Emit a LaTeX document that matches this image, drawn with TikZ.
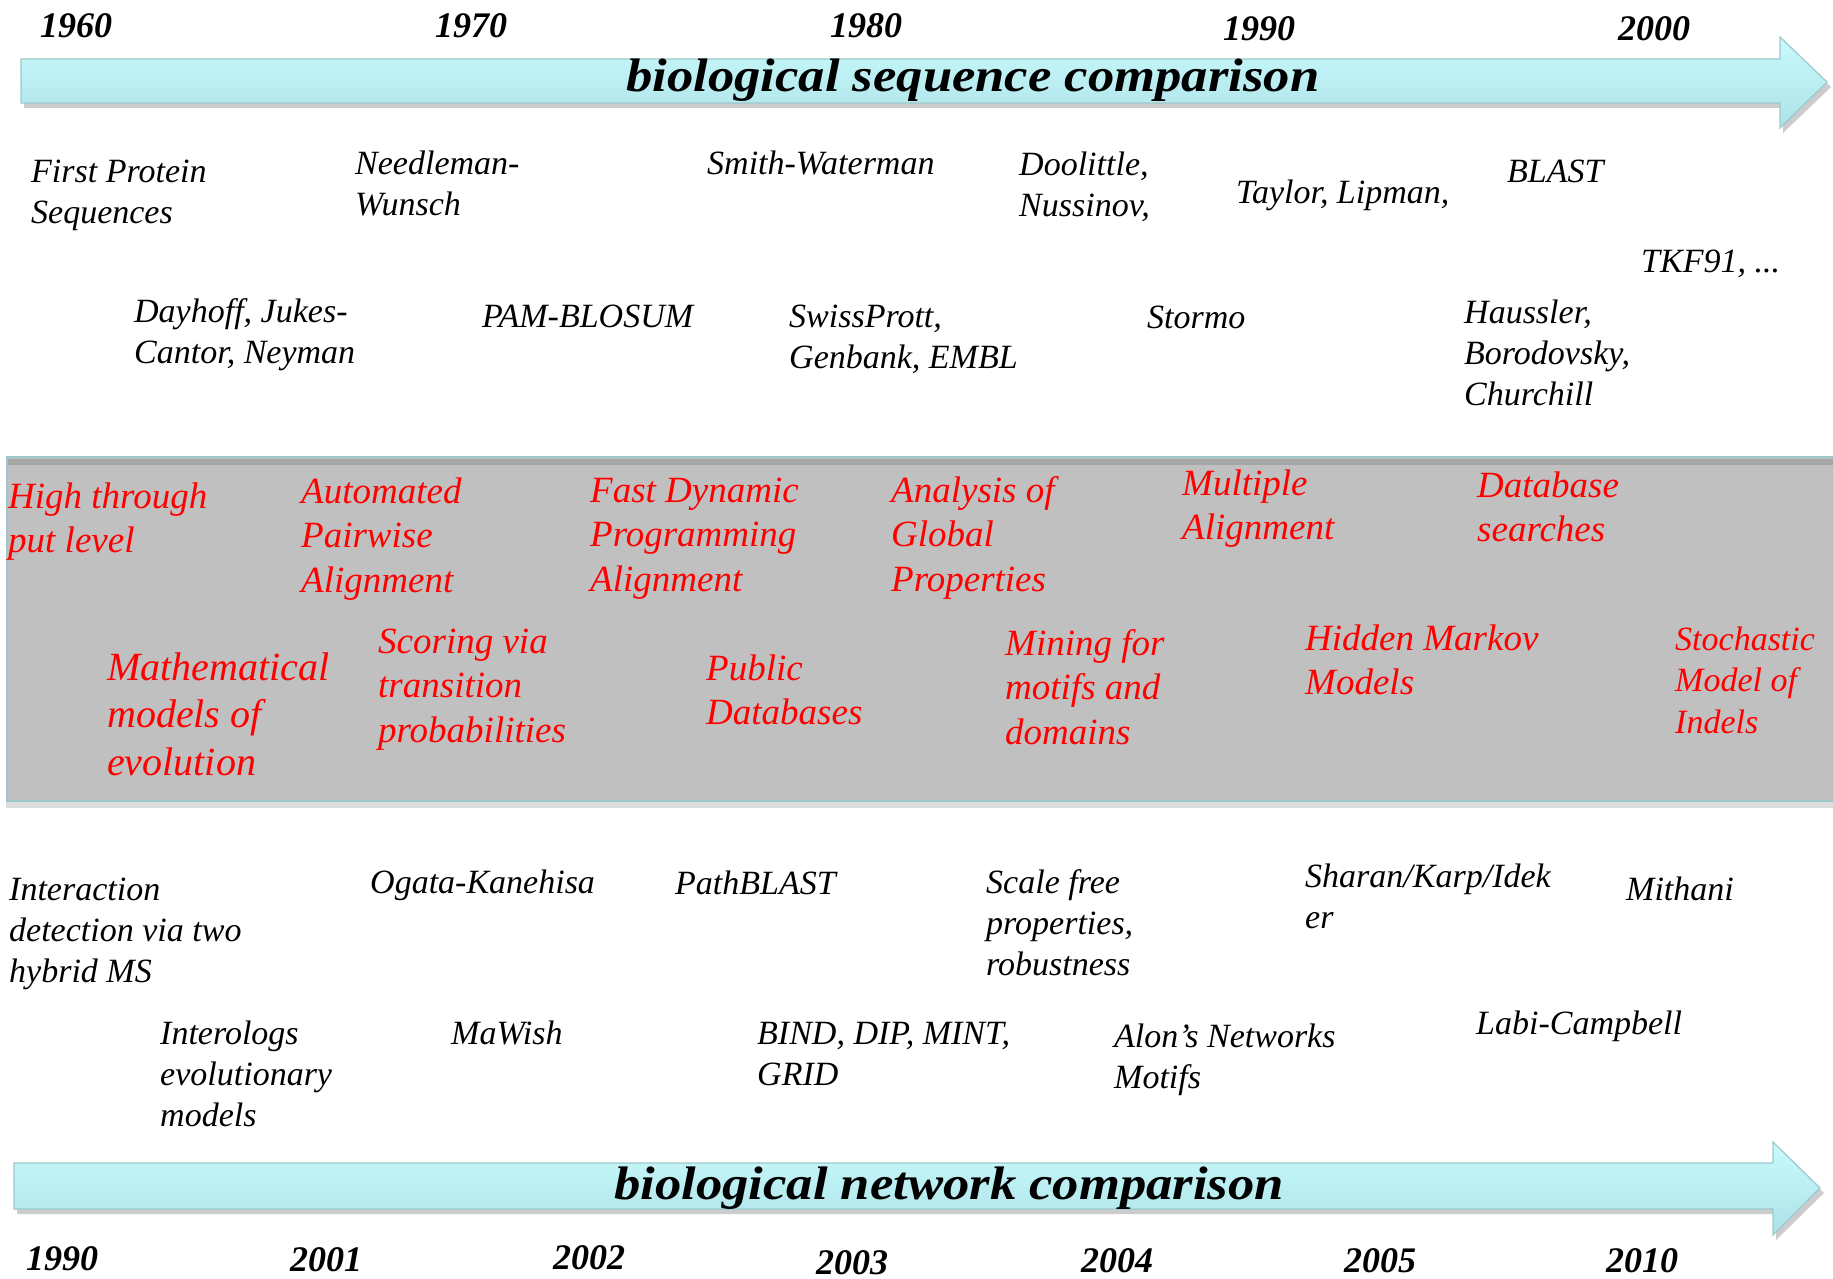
\documentclass[tikz,border=0pt]{standalone}
\usepackage{fontspec}
\setmainfont{Liberation Serif}
\newfontfamily\ttlfont[FakeStretch=1.12]{Liberation Serif}
\definecolor{arrtop}{HTML}{C9FAFC}
\definecolor{arrbot}{HTML}{ACE2E7}
\definecolor{arredge}{HTML}{9CC9CD}
\definecolor{shadowgrey}{HTML}{CCCCCC}
\definecolor{bandgrey}{HTML}{C0C0C0}
\definecolor{banddark}{HTML}{A6A6A6}
\definecolor{bandedge}{HTML}{9FC6CA}
\definecolor{bandshadow}{HTML}{DCDCDC}
\definecolor{redtxt}{HTML}{FF0000}
\tikzset{
  blk/.style={anchor=base west, inner sep=0pt, align=left, font=\fontsize{34}{41}\selectfont\itshape},
  redt/.style={anchor=base west, inner sep=0pt, align=left, text=redtxt, font=\fontsize{37}{44.5}\selectfont\itshape},
  yr/.style={anchor=base west, inner sep=0pt, font=\fontsize{36}{40}\selectfont\bfseries\itshape},
  ttl/.style={anchor=base west, inner sep=0pt, font=\ttlfont\fontsize{47}{54}\selectfont\bfseries\itshape},
  arrowbody/.style={top color=arrtop, bottom color=arrbot, draw=arredge, line width=1.2pt},
  arrowshadow/.style={fill=shadowgrey},
}
\begin{document}
\begin{tikzpicture}[x=1pt,y=-1pt]
\useasboundingbox (0,0) rectangle (1833,1279);
\clip (0,0) rectangle (1833,1279);
\fill[white] (0,0) rectangle (1833,1279);

% grey band
\fill[bandshadow] (6,802) rectangle (1840,808);
\fill[bandgrey] (6,457) rectangle (1840,802);
\fill[banddark] (8,459) rectangle (1840,465);
\draw[bandedge, line width=2.2pt] (1840,457) -- (7,457) -- (7,801) -- (1840,801);

% top arrow
\fill[arrowshadow] (24,64) -- (1783,64) -- (1783,42) -- (1831,87) -- (1783,133) -- (1783,108) -- (24,108) -- cycle;
\shadedraw[arrowbody] (21,59) -- (1780,59) -- (1780,37) -- (1827,82) -- (1780,128) -- (1780,103) -- (21,103) -- cycle;

% bottom arrow
\fill[arrowshadow] (17,1168) -- (1776,1168) -- (1776,1147) -- (1824,1193) -- (1776,1240) -- (1776,1214) -- (17,1214) -- cycle;
\shadedraw[arrowbody] (14,1163) -- (1773,1163) -- (1773,1142) -- (1820,1188) -- (1773,1235) -- (1773,1209) -- (14,1209) -- cycle;

% titles
\node[ttl] (t1) at (626,92) {biological sequence comparison};
\node[ttl] (t2) at (614,1199) {biological network comparison};

% top years
\node[yr] (y1960) at (40,38) {1960};
\node[yr] (y1970) at (435,38) {1970};
\node[yr] (y1980) at (830,38) {1980};
\node[yr] (y1990) at (1223,41) {1990};
\node[yr] (y2000) at (1618,41) {2000};

% bottom years
\node[yr] (b1990) at (26,1270) {1990};
\node[yr] (b2001) at (290,1271) {2001};
\node[yr] (b2002) at (553,1269) {2002};
\node[yr] (b2003) at (816,1274) {2003};
\node[yr] (b2004) at (1081,1272) {2004};
\node[yr] (b2005) at (1344,1272) {2005};
\node[yr] (b2010) at (1606,1272) {2010};

% top black texts (anchor = baseline of last line)
\node[blk] (fps) at (31,223) {First Protein\\Sequences};
\node[blk] (nw) at (355,215) {Needleman-\\Wunsch};
\node[blk] (sw) at (707,175) {Smith-Waterman};
\node[blk] (dn) at (1019,216) {Doolittle,\\Nussinov,};
\node[blk] (tl) at (1236,203) {Taylor, Lipman,};
\node[blk] (bl) at (1507,182) {BLAST};
\node[blk] (tkf) at (1641,272) {TKF91, ...};
\node[blk] (djc) at (134,363) {Dayhoff, Jukes-\\Cantor, Neyman};
\node[blk] (pam) at (482,327) {PAM-BLOSUM};
\node[blk] (sp) at (789,368) {SwissPrott,\\Genbank, EMBL};
\node[blk] (st) at (1147,328) {Stormo};
\node[blk] (hbc) at (1464,405) {Haussler,\\Borodovsky,\\Churchill};

% red texts
\node[redt] (r1) at (8,552.5) {High through\\put level};
\node[redt] (r2) at (301,592) {Automated\\Pairwise\\Alignment};
\node[redt] (r3) at (590,591) {Fast Dynamic\\Programming\\Alignment};
\node[redt] (r4) at (891,591) {Analysis of\\Global\\Properties};
\node[redt] (r5) at (1182,539.5) {Multiple\\Alignment};
\node[redt] (r6) at (1477,541.5) {Database\\searches};
\node[redt, font=\fontsize{40}{47.5}\selectfont\itshape] (r7) at (107,775) {Mathematical\\models of\\evolution};
\node[redt] (r8) at (378,742) {Scoring via\\transition\\probabilities};
\node[redt] (r9) at (706,724.5) {Public\\Databases};
\node[redt] (r10) at (1005,744) {Mining for\\motifs and\\domains};
\node[redt] (r11) at (1305,694.5) {Hidden Markov\\Models};
\node[redt, font=\fontsize{34}{41.5}\selectfont\itshape] (r12) at (1675,733) {Stochastic\\Model of\\Indels};

% bottom black texts
\node[blk] (idt) at (9,982) {Interaction\\detection via two\\hybrid MS};
\node[blk] (ok) at (370,893) {Ogata-Kanehisa};
\node[blk] (pb) at (675,894) {PathBLAST};
\node[blk] (sfp) at (986,975) {Scale free\\properties,\\robustness};
\node[blk] (ski) at (1305,928) {Sharan/Karp/Idek\\er};
\node[blk] (mi) at (1626,900) {Mithani};
\node[blk] (iem) at (160,1126) {Interologs\\evolutionary\\models};
\node[blk] (mw) at (451,1044) {MaWish};
\node[blk] (bdm) at (757,1085) {BIND, DIP, MINT,\\GRID};
\node[blk] (anm) at (1114,1088) {Alon’s Networks\\Motifs};
\node[blk] (lc) at (1476,1034) {Labi-Campbell};
\end{tikzpicture}
\end{document}
